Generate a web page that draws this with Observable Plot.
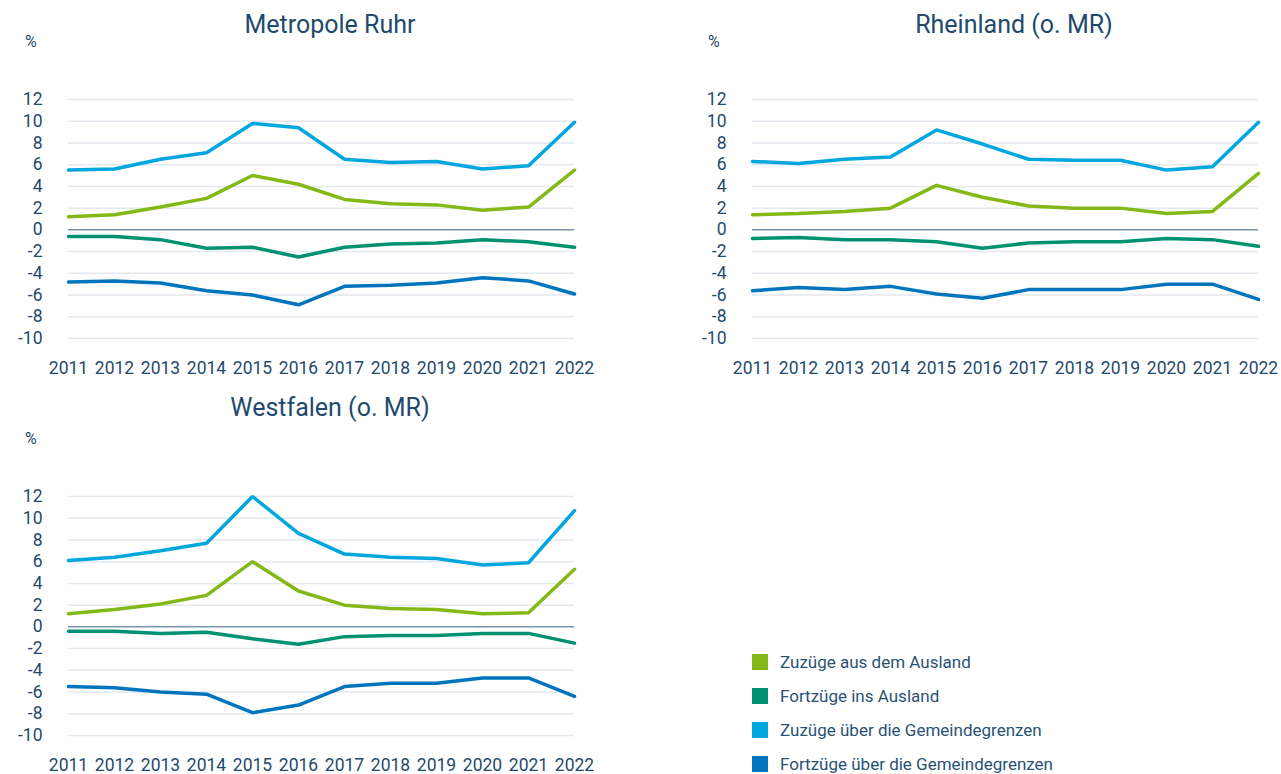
<!DOCTYPE html>
<html>
<head>
<meta charset="utf-8">
<script src="https://cdn.jsdelivr.net/npm/d3@7"></script>
<script src="https://cdn.jsdelivr.net/npm/@observablehq/plot@0.6"></script>
<style>
  html, body { margin: 0; padding: 0; background: #fff; }
  body { width: 1281px; height: 774px; position: relative; overflow: hidden; font-family: Roboto, "Open Sans", sans-serif; color: #1f4a6e; }
  .panel { position: absolute; }
  .title { position: absolute; font-size: 25px; color: #1f4a6e; transform: translateX(-50%); white-space: nowrap; }
  .unit { position: absolute; font-size: 16px; color: #1f4a6e; }
  .legend { position: absolute; left: 752px; top: 645px; }
  .legend .row { height: 34px; display: flex; align-items: center; font-size: 17px; color: #2a5275; }
  .legend .sw { width: 16px; height: 16px; margin-right: 12px; }
</style>
</head>
<body>
<script>
const years = [2011, 2012, 2013, 2014, 2015, 2016, 2017, 2018, 2019, 2020, 2021, 2022];
const yTicks = [-10, -8, -6, -4, -2, 0, 2, 4, 6, 8, 10, 12];
const seriesNames = ["Zuzüge aus dem Ausland", "Fortzüge ins Ausland", "Zuzüge über die Gemeindegrenzen", "Fortzüge über die Gemeindegrenzen"];
const seriesColors = ["#84b816", "#009172", "#00a6de", "#0075be"];
const regions = ["Metropole Ruhr", "Rheinland (o. MR)", "Westfalen (o. MR)"];

// Metropole Ruhr
const ruhrZuzugAusland = [1.2, 1.4, 2.1, 2.9, 5.0, 4.2, 2.8, 2.4, 2.3, 1.8, 2.1, 5.5];
const ruhrFortzugAusland = [-0.6, -0.6, -0.9, -1.7, -1.6, -2.5, -1.6, -1.3, -1.2, -0.9, -1.1, -1.6];
const ruhrZuzugGemeinde = [5.5, 5.6, 6.5, 7.1, 9.8, 9.4, 6.5, 6.2, 6.3, 5.6, 5.9, 9.9];
const ruhrFortzugGemeinde = [-4.8, -4.7, -4.9, -5.6, -6.0, -6.9, -5.2, -5.1, -4.9, -4.4, -4.7, -5.9];

// Rheinland (o. MR)
const rheinZuzugAusland = [1.4, 1.5, 1.7, 2.0, 4.1, 3.0, 2.2, 2.0, 2.0, 1.5, 1.7, 5.2];
const rheinFortzugAusland = [-0.8, -0.7, -0.9, -0.9, -1.1, -1.7, -1.2, -1.1, -1.1, -0.8, -0.9, -1.5];
const rheinZuzugGemeinde = [6.3, 6.1, 6.5, 6.7, 9.2, 7.9, 6.5, 6.4, 6.4, 5.5, 5.8, 9.9];
const rheinFortzugGemeinde = [-5.6, -5.3, -5.5, -5.2, -5.9, -6.3, -5.5, -5.5, -5.5, -5.0, -5.0, -6.4];

// Westfalen (o. MR)
const westZuzugAusland = [1.2, 1.6, 2.1, 2.9, 6.0, 3.3, 2.0, 1.7, 1.6, 1.2, 1.3, 5.3];
const westFortzugAusland = [-0.4, -0.4, -0.6, -0.5, -1.1, -1.6, -0.9, -0.8, -0.8, -0.6, -0.6, -1.5];
const westZuzugGemeinde = [6.1, 6.4, 7.0, 7.7, 12.0, 8.6, 6.7, 6.4, 6.3, 5.7, 5.9, 10.7];
const westFortzugGemeinde = [-5.5, -5.6, -6.0, -6.2, -7.9, -7.2, -5.5, -5.2, -5.2, -4.7, -4.7, -6.4];

const regionSeries = [
  [ruhrZuzugAusland, ruhrFortzugAusland, ruhrZuzugGemeinde, ruhrFortzugGemeinde],
  [rheinZuzugAusland, rheinFortzugAusland, rheinZuzugGemeinde, rheinFortzugGemeinde],
  [westZuzugAusland, westFortzugAusland, westZuzugGemeinde, westFortzugGemeinde]
];

// layout
const panels = [
  {left: 0, top: 80, width: 620, mr: 46, titleX: 330, titleY: 10, unitX: 25, unitY: 32},
  {left: 684, top: 80, width: 597, mr: 23, titleX: 1014, titleY: 10, unitX: 708, unitY: 32},
  {left: 0, top: 477, width: 620, mr: 46, titleX: 330, titleY: 393, unitX: 25, unitY: 429}
];

const root = document.body;
regions.forEach((name, i) => {
  const p = panels[i];
  const data = [];
  regionSeries[i].forEach((vals, s) => {
    vals.forEach((v, k) => data.push({year: years[k], value: v, series: seriesNames[s]}));
  });
  const chart = Plot.plot({
    width: p.width,
    height: 300,
    marginLeft: 68,
    marginRight: p.mr,
    marginTop: 19,
    marginBottom: 42,
    style: {fontFamily: "Roboto, sans-serif", color: "#1f4a6e", background: "transparent", overflow: "visible"},
    x: {domain: [2011, 2022], label: null},
    y: {domain: [-10, 12], label: null},
    color: {domain: seriesNames, range: seriesColors},
    marks: [
      Plot.ruleY(yTicks.filter(d => d !== 0), {stroke: "#e3e9ef", strokeWidth: 1.5}),
      Plot.ruleY([0], {stroke: "#7d93a8", strokeWidth: 1.5}),
      Plot.axisY({ticks: yTicks, tickFormat: d => String(d), tickSize: 0, tickPadding: 26, fontSize: 17.5, fill: "#1f4a6e", label: null}),
      Plot.axisX({ticks: years, tickFormat: d => String(d), tickSize: 0, tickPadding: 23, fontSize: 17.5, fill: "#1f4a6e", label: null}),
      Plot.lineY(data, {x: "year", y: "value", stroke: "series", z: "series", strokeWidth: 3.5, strokeLinejoin: "miter"})
    ]
  });
  const wrap = document.createElement("div");
  wrap.className = "panel";
  wrap.style.left = p.left + "px";
  wrap.style.top = p.top + "px";
  wrap.appendChild(chart);
  root.appendChild(wrap);

  const t = document.createElement("div");
  t.className = "title";
  t.textContent = name;
  t.style.left = p.titleX + "px";
  t.style.top = p.titleY + "px";
  root.appendChild(t);

  const u = document.createElement("div");
  u.className = "unit";
  u.textContent = "%";
  u.style.left = p.unitX + "px";
  u.style.top = p.unitY + "px";
  root.appendChild(u);
});

const legend = document.createElement("div");
legend.className = "legend";
seriesNames.forEach((n, s) => {
  const row = document.createElement("div");
  row.className = "row";
  const sw = document.createElement("div");
  sw.className = "sw";
  sw.style.background = seriesColors[s];
  const lab = document.createElement("span");
  lab.textContent = n;
  row.appendChild(sw);
  row.appendChild(lab);
  legend.appendChild(row);
});
root.appendChild(legend);
</script>
</body>
</html>
